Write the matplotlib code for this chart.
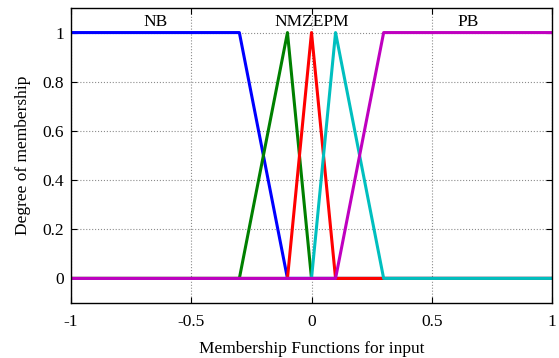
import numpy as np
import matplotlib
matplotlib.use('Agg')
import matplotlib.pyplot as plt

plt.rcParams['font.family'] = ['Liberation Serif', 'DejaVu Serif']
plt.rcParams['font.size'] = 12.5

# membership function breakpoints (x, y)
names = ['NB', 'NM', 'ZE', 'PM', 'PB']
nb_x = [-1, -0.3, -0.1, 1]
nb_y = [1, 1, 0, 0]
nm_x = [-1, -0.3, -0.1, 0, 1]
nm_y = [0, 0, 1, 0, 0]
ze_x = [-1, -0.1, 0, 0.1, 1]
ze_y = [0, 0, 1, 0, 0]
pm_x = [-1, 0, 0.1, 0.3, 1]
pm_y = [0, 0, 1, 0, 0]
pb_x = [-1, 0.1, 0.3, 1]
pb_y = [0, 0, 1, 1]

xs = [nb_x, nm_x, ze_x, pm_x, pb_x]
ys = [nb_y, nm_y, ze_y, pm_y, pb_y]
colors = ['b', (0, 0.5, 0), 'r', (0, 0.75, 0.75), (0.75, 0, 0.75)]

fig = plt.figure(figsize=(5.59, 3.58), dpi=100)
ax = fig.add_axes([0.127, 0.1536, 0.8605, 0.8241])

for x, y, c in zip(xs, ys, colors):
    ax.plot(x, y, color=c, lw=2.2)

# labels above the peaks, they run together in the middle
ax.text(-0.65, 1.012, 'NB', ha='center', va='bottom')
ax.text(0, 1.012, 'NMZEPM', ha='center', va='bottom')
ax.text(0.65, 1.012, 'PB', ha='center', va='bottom')

ax.set_xlim(-1, 1)
ax.set_ylim(-0.1, 1.1)
ax.set_xticks([-1, -0.5, 0, 0.5, 1])
ax.set_xticklabels(['-1', '-0.5', '0', '0.5', '1'])
ax.set_yticks([0, 0.2, 0.4, 0.6, 0.8, 1])
ax.set_yticklabels(['0', '0.2', '0.4', '0.6', '0.8', '1'])
ax.tick_params(direction='in', top=True, right=True, length=4, width=0.8)
ax.tick_params(axis='x', pad=8)
ax.tick_params(axis='y', pad=5)
ax.grid(True, color='0.55', linestyle=':', lw=0.8)
for s in ax.spines.values():
    s.set_linewidth(1.0)

ax.set_xlabel('Membership Functions for input', labelpad=8)
ax.set_ylabel('Degree of membership', labelpad=8)

fig.savefig('out.png', dpi=100)
